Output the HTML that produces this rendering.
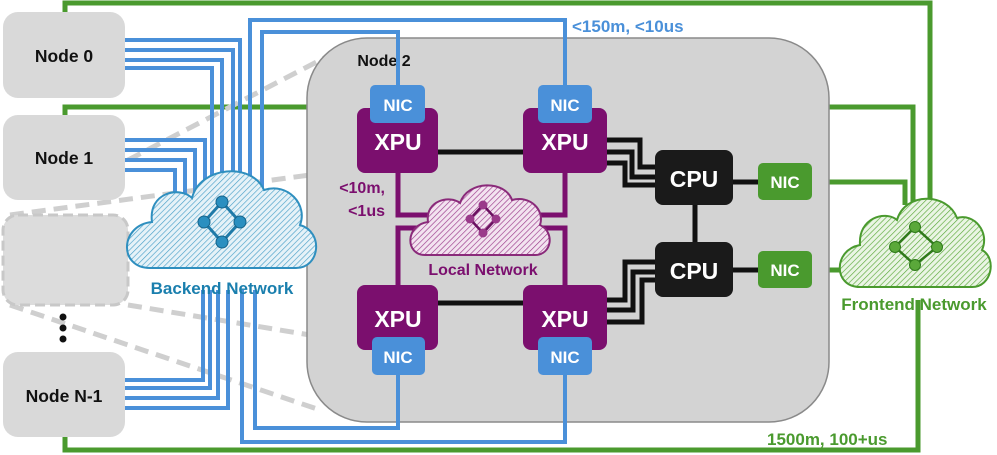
<!DOCTYPE html>
<html><head><meta charset="utf-8"><style>
html,body{margin:0;padding:0;background:#fff;}
svg{display:block;font-family:"Liberation Sans",Arial,sans-serif;font-weight:bold;}
</style></head><body>
<svg width="997" height="455" viewBox="0 0 997 455" xmlns="http://www.w3.org/2000/svg">
<defs>
<pattern id="hb" width="4" height="4" patternUnits="userSpaceOnUse" patternTransform="rotate(45)"><rect width="4" height="4" fill="#e6f2f8"/><line x1="0" y1="0" x2="0" y2="4" stroke="#4aa0c8" stroke-width="1.3"/></pattern>
<pattern id="hg" width="4" height="4" patternUnits="userSpaceOnUse" patternTransform="rotate(45)"><rect width="4" height="4" fill="#eaf5e4"/><line x1="0" y1="0" x2="0" y2="4" stroke="#5aa83a" stroke-width="1.3"/></pattern>
<pattern id="hp" width="4" height="4" patternUnits="userSpaceOnUse" patternTransform="rotate(45)"><rect width="4" height="4" fill="#f3e3f0"/><line x1="0" y1="0" x2="0" y2="4" stroke="#9a3a8a" stroke-width="1.3"/></pattern>
</defs>

<g fill="none" stroke="#4a9a2e" stroke-width="5">
<polyline points="65,12 65,3 930,3 930,205"/>
<polyline points="65,115 65,107 310,107"/>
<polyline points="826,107 913,107 913,205"/>
<polyline points="65,437 65,450 918,450 918,300"/>
<polyline points="812,182 905,182 905,205"/>
<line x1="812" y1="270" x2="845" y2="270"/>
</g>

<g stroke="#cfcfcf" stroke-width="5" stroke-dasharray="14 8" fill="none">
<line x1="128" y1="160" x2="330" y2="55"/>
<line x1="10" y1="215" x2="310" y2="175"/>
<line x1="10" y1="305" x2="320" y2="410"/>
<line x1="128" y1="305" x2="310" y2="335"/>
</g>

<rect x="307" y="38" width="522" height="384" rx="60" fill="#d3d3d3" stroke="#8a8a8a" stroke-width="1.5"/>
<text x="384" y="66" font-size="16" text-anchor="middle" fill="#111">Node 2</text>

<g fill="#d9d9d9">
<rect x="3" y="12" width="122" height="86" rx="15"/>
<rect x="3" y="115" width="122" height="85" rx="15"/>
<rect x="3" y="352" width="122" height="85" rx="15"/>
</g>
<rect x="3" y="215" width="125" height="90" rx="15" fill="#dcdcdc" stroke="#c8c8c8" stroke-width="3" stroke-dasharray="10 5"/>
<g font-size="17.5" fill="#111" text-anchor="middle">
<text x="64" y="62">Node 0</text>
<text x="64" y="164">Node 1</text>
<text x="64" y="402">Node N-1</text>
</g>
<g fill="#111"><circle cx="63" cy="317" r="3.5"/><circle cx="63" cy="328" r="3.5"/><circle cx="63" cy="339" r="3.5"/></g>

<g fill="none" stroke="#4a90d9" stroke-width="4">
<polyline points="125,40 240,40 240,200"/>
<polyline points="125,50 233,50 233,200"/>
<polyline points="125,60 222,60 222,200"/>
<polyline points="125,68 212,68 212,200"/>
<polyline points="125,140 205,140 205,200"/>
<polyline points="125,150 195,150 195,200"/>
<polyline points="125,160 185,160 185,200"/>
<polyline points="125,170 175,170 175,200"/>
<polyline points="125,380 203,380 203,290"/>
<polyline points="125,388 210,388 210,290"/>
<polyline points="125,398 218,398 218,290"/>
<polyline points="125,408 228,408 228,290"/>
<polyline points="250,200 250,20 565,20 565,90"/>
<polyline points="262,200 262,32 398,32 398,90"/>
<polyline points="242,290 242,442 565,442 565,372"/>
<polyline points="255,290 255,428 398,428 398,372"/>
</g>

<path d="M150,268 C118,268 120,225 152,222 C148,192 180,186 192,198 C200,166 252,162 264,190 C288,182 308,205 300,225 C324,232 320,268 296,268 Z" fill="url(#hb)" stroke="#2f8fbf" stroke-width="2"/>
<g stroke="#1f7aa8" stroke-width="3" fill="none"><path d="M222,202 L204,222 L222,242 L240,222 Z"/></g>
<g fill="#2a8fc0" stroke="#15638a" stroke-width="1"><circle cx="222" cy="202" r="6"/><circle cx="204" cy="222" r="6"/><circle cx="240" cy="222" r="6"/><circle cx="222" cy="242" r="6"/></g>
<text x="222" y="294" font-size="17" text-anchor="middle" fill="#1a7fae">Backend Network</text>

<g fill="none" stroke="#7b0f6e" stroke-width="5">
<polyline points="398,173 398,215 440,215"/>
<polyline points="565,173 565,215 525,215"/>
<polyline points="398,285 398,228 440,228"/>
<polyline points="565,285 565,228 525,228"/>
</g>
<g fill="none" stroke="#111" stroke-width="5">
<line x1="438" y1="152" x2="523" y2="152"/>
<line x1="438" y1="303" x2="523" y2="303"/>
<polyline points="607,140 640,140 640,167 655,167"/>
<polyline points="607,152 632,152 632,177 655,177"/>
<polyline points="607,163 625,163 625,185 655,185"/>
<polyline points="607,300 625,300 625,262 655,262"/>
<polyline points="607,310 633,310 633,272 655,272"/>
<polyline points="607,322 642,322 642,280 655,280"/>
<line x1="695" y1="205" x2="695" y2="242"/>
<line x1="733" y1="182" x2="758" y2="182"/>
<line x1="733" y1="270" x2="758" y2="270"/>
</g>

<path d="M425,255 C405,255 405,225 428,222 C425,200 450,195 460,203 C468,180 505,180 512,200 C530,195 545,210 540,225 C555,232 552,255 535,255 Z" fill="url(#hp)" stroke="#8a2a7a" stroke-width="2"/>
<g stroke="#6a1060" stroke-width="2.5" fill="none"><path d="M483,205 L470,219 L483,233 L496,219 Z"/></g>
<g fill="#9a3a8a"><circle cx="483" cy="205" r="4.5"/><circle cx="470" cy="219" r="4.5"/><circle cx="496" cy="219" r="4.5"/><circle cx="483" cy="233" r="4.5"/></g>
<text x="483" y="275" font-size="16" text-anchor="middle" fill="#7b0f6e">Local Network</text>
<text x="385" y="193" font-size="16" text-anchor="end" fill="#7b0f6e">&lt;10m,</text>
<text x="385" y="216" font-size="16" text-anchor="end" fill="#7b0f6e">&lt;1us</text>

<g fill="#7b0f6e">
<rect x="357" y="108" width="81" height="65" rx="8"/>
<rect x="523" y="108" width="84" height="65" rx="8"/>
<rect x="357" y="285" width="81" height="65" rx="8"/>
<rect x="523" y="285" width="84" height="65" rx="8"/>
</g>
<g fill="#4a90d9">
<rect x="370" y="85" width="55" height="38" rx="5"/>
<rect x="538" y="85" width="54" height="38" rx="5"/>
<rect x="372" y="337" width="53" height="38" rx="5"/>
<rect x="538" y="337" width="54" height="38" rx="5"/>
</g>
<g fill="#fff" text-anchor="middle">
<text x="398" y="150" font-size="23">XPU</text>
<text x="565" y="150" font-size="23">XPU</text>
<text x="398" y="327" font-size="23">XPU</text>
<text x="565" y="327" font-size="23">XPU</text>
<text x="398" y="111" font-size="17">NIC</text>
<text x="565" y="111" font-size="17">NIC</text>
<text x="398" y="363" font-size="17">NIC</text>
<text x="565" y="363" font-size="17">NIC</text>
</g>

<g fill="#1a1a1a">
<rect x="655" y="150" width="78" height="55" rx="8"/>
<rect x="655" y="242" width="78" height="55" rx="8"/>
</g>
<g fill="#4a9a2e">
<rect x="758" y="163" width="54" height="37" rx="5"/>
<rect x="758" y="251" width="54" height="37" rx="5"/>
</g>
<g fill="#fff" text-anchor="middle">
<text x="694" y="187" font-size="23">CPU</text>
<text x="694" y="279" font-size="23">CPU</text>
<text x="785" y="188" font-size="17">NIC</text>
<text x="785" y="276" font-size="17">NIC</text>
</g>

<path d="M860,287 C833,287 833,250 860,245 C858,218 885,210 897,220 C905,192 947,192 957,218 C974,213 990,232 982,250 C997,258 992,287 972,287 Z" fill="url(#hg)" stroke="#4a9a2e" stroke-width="2"/>
<g stroke="#2f7a1a" stroke-width="2.5" fill="none"><path d="M915,227 L895,247 L915,265 L937,247 Z"/></g>
<g fill="#5aa83a" stroke="#2f7a1a" stroke-width="1"><circle cx="915" cy="227" r="5.5"/><circle cx="895" cy="247" r="5.5"/><circle cx="937" cy="247" r="5.5"/><circle cx="915" cy="265" r="5.5"/></g>
<text x="914" y="310" font-size="17" text-anchor="middle" fill="#4a9a2e">Frontend Network</text>

<text x="572" y="32" font-size="17" fill="#4a90d9">&lt;150m, &lt;10us</text>
<text x="767" y="445" font-size="17" fill="#4a9a2e">1500m, 100+us</text>
</svg>
</body></html>
